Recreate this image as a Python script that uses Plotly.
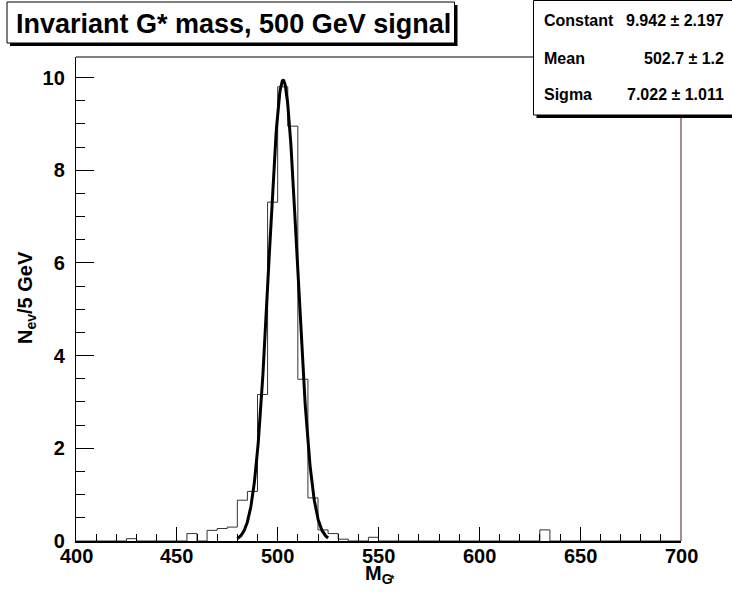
import numpy as np
import plotly.graph_objects as go

# ---- data ----
bin_width = 5
x_min, x_max = 400, 700
bin_low = [425, 455, 465, 470, 475, 480, 485, 490, 495, 500, 505, 510, 515, 520, 525, 530, 545, 630]
counts  = [0.05, 0.16, 0.23, 0.27, 0.30, 0.88, 1.07, 3.16, 7.31, 9.80, 8.95, 3.49, 0.93, 0.24, 0.16, 0.04, 0.08, 0.24]

fit_constant, fit_constant_err = 9.942, 2.197
fit_mean, fit_mean_err = 502.7, 1.2
fit_sigma, fit_sigma_err = 7.022, 1.011
fit_range = [480, 525]

x_ticks = [400, 450, 500, 550, 600, 650, 700]
y_ticks = [0, 2, 4, 6, 8, 10]

title_text = "Invariant G* mass, 500 GeV signal"

# ---- build histogram outline ----
n_bins = (x_max - x_min) // bin_width
edges = [x_min + i * bin_width for i in range(n_bins + 1)]
full = [0.0] * n_bins
for lo, c in zip(bin_low, counts):
    full[(lo - x_min) // bin_width] = c
step_x = edges
step_y = full + [full[-1]]

# fit function evaluated from the displayed fit parameters
fx = np.linspace(fit_range[0], fit_range[1], 300)
fy = fit_constant * np.exp(-0.5 * ((fx - fit_mean) / fit_sigma) ** 2)

W, H = 732, 598
L, R, T, B = 76, 681, 57, 541   # plot area in pixels
PX_PER_Y = 46.35
y_top = (B - T) / PX_PER_Y

def xp(px):
    return (px - L) / (R - L)

def yp(py):
    return (B - py) / (B - T)

FONT = "Liberation Sans, Arial, Helvetica, sans-serif"

fig = go.Figure()
fig.add_trace(go.Scatter(x=step_x, y=step_y, mode="lines",
                         line=dict(color="#333333", width=1, shape="hv"),
                         hoverinfo="skip", showlegend=False))
fig.add_trace(go.Scatter(x=fx, y=fy, mode="lines",
                         line=dict(color="black", width=3),
                         hoverinfo="skip", showlegend=False))

fig.update_layout(
    width=W, height=H, autosize=False,
    margin=dict(l=L, r=W - R, t=T, b=H - B, pad=0),
    paper_bgcolor="white", plot_bgcolor="white",
    showlegend=False,
    font=dict(family=FONT, color="black", size=19, weight="bold"),
)
fig.update_xaxes(
    range=[x_min, x_max], showgrid=False, zeroline=False,
    showline=True, linecolor="black", linewidth=2,
    ticks="inside", ticklen=14, tickwidth=1, tickcolor="black",
    tickvals=x_ticks, showticklabels=False,
    minor=dict(ticks="inside", ticklen=7, tickwidth=1, tickcolor="black", dtick=10, showgrid=False),
)
fig.update_yaxes(
    range=[0, y_top], showgrid=False, zeroline=False,
    showline=True, linecolor="black", linewidth=1.2,
    ticks="inside", ticklen=18, tickwidth=1, tickcolor="black",
    tickvals=y_ticks, ticktext=[str(v) for v in y_ticks],
    tickfont=dict(family=FONT, size=20, weight="bold"),
    minor=dict(ticks="inside", ticklen=9, tickwidth=1, tickcolor="black", dtick=0.5, showgrid=False),
    ticklabelstandoff=6,
)

shapes = []
# frame top and right
shapes.append(dict(type="line", xref="paper", yref="paper", x0=0, x1=1, y0=1, y1=1,
                   line=dict(color="black", width=1.2)))
shapes.append(dict(type="line", xref="paper", yref="paper", x0=1, x1=1, y0=0, y1=1,
                   line=dict(color="#6b3f3f", width=1.2)))
# title box shadow + box
shapes.append(dict(type="rect", xref="paper", yref="paper",
                   x0=xp(10), x1=xp(457.5), y0=yp(46), y1=yp(5),
                   fillcolor="black", line=dict(width=0)))
shapes.append(dict(type="rect", xref="paper", yref="paper",
                   x0=xp(7), x1=xp(454.5), y0=yp(43), y1=yp(2),
                   fillcolor="white", line=dict(color="black", width=1)))
# stats box shadow + box
shapes.append(dict(type="rect", xref="paper", yref="paper",
                   x0=xp(536.5), x1=xp(740), y0=yp(118), y1=yp(3),
                   fillcolor="black", line=dict(width=0)))
shapes.append(dict(type="rect", xref="paper", yref="paper",
                   x0=xp(533.5), x1=xp(737), y0=yp(115), y1=yp(0.5),
                   fillcolor="white", line=dict(color="black", width=1)))
fig.update_layout(shapes=shapes)

ann = []
ann.append(dict(text=title_text, x=xp(233), y=yp(24), xref="paper", yref="paper",
                showarrow=False, xanchor="center", yanchor="middle",
                font=dict(family=FONT, size=27, weight="bold")))
stat_rows = [
    ("Constant", f"{fit_constant:.3f} \u00b1 {fit_constant_err:.3f}", 20),
    ("Mean", f"{fit_mean:.1f} \u00b1 {fit_mean_err:.1f}", 58),
    ("Sigma", f"{fit_sigma:.3f} \u00b1 {fit_sigma_err:.3f}", 95),
]
for name, val, ypx in stat_rows:
    ann.append(dict(text=name, x=xp(542), y=yp(ypx), xref="paper", yref="paper",
                    showarrow=False, xanchor="left", yanchor="middle",
                    font=dict(family=FONT, size=16, weight="bold")))
    ann.append(dict(text=val, x=xp(726), y=yp(ypx), xref="paper", yref="paper",
                    showarrow=False, xanchor="right", yanchor="middle",
                    font=dict(family=FONT, size=16, weight="bold")))
# x tick labels (placed at the axis' own tick values)
for v in x_ticks:
    ann.append(dict(text=str(v), x=v, y=yp(556), xref="x", yref="paper",
                    showarrow=False, xanchor="center", yanchor="middle",
                    font=dict(family=FONT, size=20, weight="bold")))
# axis titles
ann.append(dict(text="N<sub>ev</sub>/5 GeV", x=xp(26), y=yp(298), xref="paper", yref="paper",
                showarrow=False, xanchor="center", yanchor="middle", textangle=-90,
                font=dict(family=FONT, size=20, weight="bold")))
ann.append(dict(text="M<sub>G</sub>", x=xp(363), y=yp(560), xref="paper", yref="paper",
                showarrow=False, xanchor="left", yanchor="top",
                font=dict(family=FONT, size=20, weight="bold")))
ann.append(dict(text="*", x=xp(392), y=yp(579), xref="paper", yref="paper",
                showarrow=False, xanchor="center", yanchor="middle",
                font=dict(family=FONT, size=11, weight="bold")))
fig.update_layout(annotations=ann)

fig.write_html("out.html", config={"displayModeBar": False, "staticPlot": True},
               post_script="document.body.style.margin='0px';document.body.style.overflow='hidden';")
